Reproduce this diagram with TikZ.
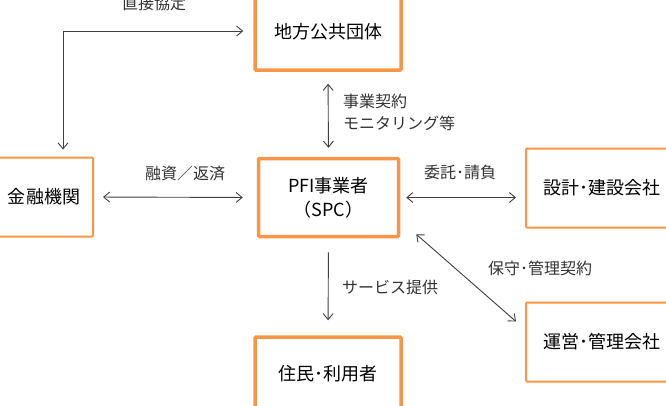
\documentclass[tikz,border=0pt]{standalone}
\usepackage{fontspec}
\setmainfont{Noto Sans CJK JP}
\usetikzlibrary{arrows.meta}
\definecolor{boxorange}{HTML}{F79646}
\definecolor{linegray}{HTML}{404040}
\definecolor{textgray}{HTML}{333333}
\tikzset{
  thickbox/.style={draw=boxorange, line width=3.5pt, fill=white, inner sep=0pt, rounded corners=1pt, font=\fontsize{18}{24}\selectfont, text=black, align=center},
  thinbox/.style={draw=boxorange, line width=2pt, fill=white, inner sep=0pt, rounded corners=1pt, font=\fontsize{18}{24}\selectfont, text=black, align=center},
  conn/.style={draw=linegray, line width=0.9pt, {Straight Barb[length=6pt,width=10pt]}-{Straight Barb[length=6pt,width=10pt]}},
  oneway/.style={draw=linegray, line width=0.9pt, -{Straight Barb[length=6pt,width=10pt]}},
  lbl/.style={text=textgray, font=\fontsize{16}{22}\selectfont, inner sep=0pt}
}
\begin{document}
\begin{tikzpicture}[x=1pt,y=-1pt]
\useasboundingbox (0,0) rectangle (666,405);
\fill[white] (0,0) rectangle (666,405);
% boxes
\node[thickbox, minimum width=146pt, minimum height=76pt] (gov) at (328,32) {地方公共団体};
\node[thinbox, minimum width=98pt, minimum height=79pt] (bank) at (44,197) {金融機関};
\node[thickbox, minimum width=140pt, minimum height=78pt] (pfi) at (328.5,197.5) {PFI事業者\\（SPC）};
\node[thinbox, minimum width=152pt, minimum height=79pt] (design) at (602,188) {設計･建設会社};
\node[thinbox, minimum width=152pt, minimum height=79pt] (ops) at (602,342) {運営･管理会社};
\node[thickbox, minimum width=146pt, minimum height=74pt] (res) at (328,374) {住民･利用者};
% connectors
\coordinate (corner) at (63,31);
\draw[conn, shorten <=10pt, shorten >=7pt] (gov.west |- corner) -- (corner) -- (corner |- bank.north);
\draw[conn, shorten <=12pt, shorten >=9pt] (gov.south) -- (pfi.north);
\draw[conn, shorten <=9pt, shorten >=14pt] (bank.east) -- (pfi.west);
\draw[conn, shorten <=6pt, shorten >=9pt] (pfi.east) -- (pfi.east -| design.west);
\draw[conn] ([shift={(16,-4)}]pfi.south east) -- ([shift={(-9,20)}]ops.north west);
\draw[oneway, shorten <=14pt, shorten >=15pt] (pfi.south) -- (res.north);
% labels
\node[lbl] (l1) at (154,3) {直接協定};
\node[lbl, anchor=west, align=left] (l2) at (343,112) {事業契約\\モニタリング等};
\node[lbl] (l3) at (185,173) {融資／返済};
\node[lbl] (l4) at (460,172) {委託･請負};
\node[lbl] (l5) at (540,268) {保守･管理契約};
\node[lbl] (l6) at (390,287) {サービス提供};
\end{tikzpicture}
\end{document}
